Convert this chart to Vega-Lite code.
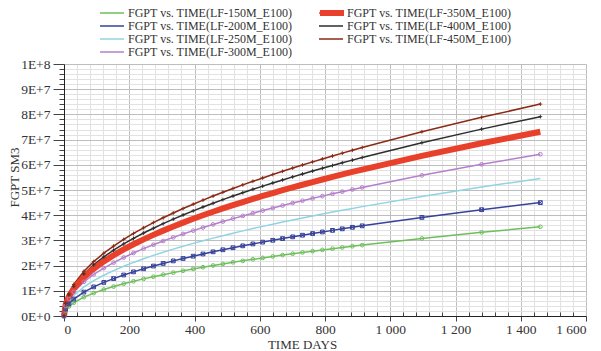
{
  "$schema": "https://vega.github.io/schema/vega-lite/v6.json",
  "width": 522,
  "height": 252,
  "autosize": {"type": "none"},
  "padding": {"left": 64, "top": 64, "right": 15, "bottom": 35},
  "background": "white",
  "config": {
    "view": {"stroke": null},
    "font": "Liberation Serif",
    "axis": {
      "labelFont": "Liberation Serif",
      "titleFont": "Liberation Serif",
      "labelFontSize": 13.5,
      "titleFontSize": 13,
      "titleFontWeight": "normal",
      "labelColor": "#333333",
      "titleColor": "#333333",
      "tickColor": "#444444",
      "domainColor": "#222222"
    }
  },
  "data": {
    "values": [
      {"t": 0, "150": 0, "200": 0, "250": 0, "300": 0, "350": 0, "400": 0, "450": 0},
      {"t": 5, "150": 2190000, "200": 2790000, "250": 3380000, "300": 3970000, "350": 4520000, "400": 4900000, "450": 5210000},
      {"t": 15, "150": 3760000, "200": 4770000, "250": 5790000, "300": 6810000, "350": 7760000, "400": 8390000, "450": 8920000},
      {"t": 30, "150": 5270000, "200": 6710000, "250": 8140000, "300": 9570000, "350": 10890000, "400": 11790000, "450": 12530000},
      {"t": 61, "150": 7470000, "200": 9500000, "250": 11520000, "300": 13550000, "350": 15420000, "400": 16690000, "450": 17750000},
      {"t": 91, "150": 9090000, "200": 11550000, "250": 14020000, "300": 16480000, "350": 18760000, "400": 20300000, "450": 21590000},
      {"t": 122, "150": 10490000, "200": 13330000, "250": 16180000, "300": 19020000, "350": 21660000, "400": 23440000, "450": 24920000},
      {"t": 152, "150": 11680000, "200": 14850000, "250": 18020000, "300": 21190000, "350": 24120000, "400": 26100000, "450": 27750000},
      {"t": 183, "150": 12800000, "200": 16270000, "250": 19740000, "300": 23210000, "350": 26430000, "400": 28590000, "450": 30400000},
      {"t": 213, "150": 13780000, "200": 17520000, "250": 21260000, "300": 25000000, "350": 28470000, "400": 30800000, "450": 32750000},
      {"t": 244, "150": 14730000, "200": 18730000, "250": 22720000, "300": 26720000, "350": 30420000, "400": 32920000, "450": 35000000},
      {"t": 274, "150": 15590000, "200": 19820000, "250": 24050000, "300": 28280000, "350": 32200000, "400": 34840000, "450": 37050000},
      {"t": 304, "150": 16410000, "200": 20860000, "250": 25310000, "300": 29760000, "350": 33880000, "400": 36660000, "450": 38980000},
      {"t": 335, "150": 17210000, "200": 21870000, "250": 26540000, "300": 31210000, "350": 35530000, "400": 38450000, "450": 40880000},
      {"t": 365, "150": 17950000, "200": 22820000, "250": 27680000, "300": 32550000, "350": 37060000, "400": 40100000, "450": 42640000},
      {"t": 396, "150": 18680000, "200": 23740000, "250": 28810000, "300": 33870000, "350": 38570000, "400": 41730000, "450": 44370000},
      {"t": 426, "150": 19360000, "200": 24610000, "250": 29860000, "300": 35100000, "350": 39970000, "400": 43250000, "450": 45990000},
      {"t": 457, "150": 20040000, "200": 25470000, "250": 30900000, "300": 36340000, "350": 41370000, "400": 44770000, "450": 47600000},
      {"t": 487, "150": 20670000, "200": 26280000, "250": 31880000, "300": 37490000, "350": 42680000, "400": 46190000, "450": 49110000},
      {"t": 518, "150": 21310000, "200": 27090000, "250": 32860000, "300": 38640000, "350": 44000000, "400": 47610000, "450": 50620000},
      {"t": 548, "150": 21900000, "200": 27840000, "250": 33780000, "300": 39720000, "350": 45230000, "400": 48940000, "450": 52030000},
      {"t": 579, "150": 22500000, "200": 28600000, "250": 34700000, "300": 40810000, "350": 46460000, "400": 50280000, "450": 53450000},
      {"t": 609, "150": 23060000, "200": 29320000, "250": 35570000, "300": 41830000, "350": 47620000, "400": 51530000, "450": 54790000},
      {"t": 640, "150": 23630000, "200": 30040000, "250": 36450000, "300": 42860000, "350": 48800000, "400": 52810000, "450": 56150000},
      {"t": 670, "150": 24170000, "200": 30720000, "250": 37280000, "300": 43830000, "350": 49910000, "400": 54000000, "450": 57410000},
      {"t": 701, "150": 24710000, "200": 31410000, "250": 38110000, "300": 44810000, "350": 51020000, "400": 55210000, "450": 58700000},
      {"t": 731, "150": 25220000, "200": 32060000, "250": 38900000, "300": 45740000, "350": 52080000, "400": 56360000, "450": 59920000},
      {"t": 762, "150": 25740000, "200": 32720000, "250": 39710000, "300": 46690000, "350": 53160000, "400": 57520000, "450": 61160000},
      {"t": 792, "150": 26230000, "200": 33350000, "250": 40460000, "300": 47570000, "350": 54170000, "400": 58610000, "450": 62320000},
      {"t": 823, "150": 26730000, "200": 33980000, "250": 41230000, "300": 48480000, "350": 55200000, "400": 59730000, "450": 63500000},
      {"t": 853, "150": 27200000, "200": 34580000, "250": 41960000, "300": 49340000, "350": 56180000, "400": 60790000, "450": 64630000},
      {"t": 884, "150": 27690000, "200": 35190000, "250": 42700000, "300": 50210000, "350": 57170000, "400": 61860000, "450": 65770000},
      {"t": 914, "150": 28140000, "200": 35770000, "250": 43400000, "300": 51030000, "350": 58110000, "400": 62880000, "450": 66850000},
      {"t": 1097, "150": 30770000, "200": 39120000, "250": 47460000, "300": 55810000, "350": 63550000, "400": 68760000, "450": 73110000},
      {"t": 1280, "150": 33190000, "200": 42190000, "250": 51190000, "300": 60190000, "350": 68530000, "400": 74160000, "450": 78840000},
      {"t": 1460, "150": 35400000, "200": 45000000, "250": 54600000, "300": 64200000, "350": 73100000, "400": 79100000, "450": 84100000}
    ]
  },
  "transform": [
    {"fold": ["150", "200", "250", "300", "400", "450", "350"], "as": ["series", "value"]}
  ],
  "encoding": {
    "x": {
      "field": "t", "type": "quantitative",
      "scale": {"domain": [0, 1600], "nice": false, "zero": false},
      "axis": {
        "values": [0,40,80,120,160,200,240,280,320,360,400,440,480,520,560,600,640,680,720,760,800,840,880,920,960,1000,1040,1080,1120,1160,1200,1240,1280,1320,1360,1400,1440,1480,1520,1560,1600],
        "grid": true,
        "gridColor": {"condition": {"test": "datum.value % 200 === 0", "value": "#bdbdbd"}, "value": "#e2e2e2"},
        "tickSize": {"condition": {"test": "datum.value % 200 === 0", "value": 5}, "value": -4},
        "labelPadding": 1,
        "labelOverlap": false,
        "labelExpr": "datum.value % 200 === 0 ? replace(format(datum.value, ','), ',', ' ') : ''",
        "domain": true,
        "title": "TIME DAYS", "titleX": 238, "titleY": 28.5, "titleBaseline": "middle"
      }
    },
    "y": {
      "field": "value", "type": "quantitative",
      "scale": {"domain": [0, 100000000], "nice": false},
      "axis": {
        "values": [0,2000000,4000000,6000000,8000000,10000000,12000000,14000000,16000000,18000000,20000000,22000000,24000000,26000000,28000000,30000000,32000000,34000000,36000000,38000000,40000000,42000000,44000000,46000000,48000000,50000000,52000000,54000000,56000000,58000000,60000000,62000000,64000000,66000000,68000000,70000000,72000000,74000000,76000000,78000000,80000000,82000000,84000000,86000000,88000000,90000000,92000000,94000000,96000000,98000000,100000000],
        "grid": true,
        "gridColor": {"condition": {"test": "datum.value % 10000000 === 0", "value": "#bdbdbd"}, "value": "#e2e2e2"},
        "tickSize": {"condition": {"test": "datum.value % 10000000 === 0", "value": 11}, "value": 5},
        "labelPadding": 3,
        "labelOverlap": false,
        "labelExpr": "datum.value % 10000000 === 0 ? replace(format(datum.value, '.0e'), 'e', 'E') : ''",
        "domain": true,
        "title": "FGPT SM3", "titleX": -50, "titleY": 113, "titleAngle": -90, "titleBaseline": "middle", "titleAlign": "center"
      }
    }
  },
  "layer": [
    {
      "transform": [{"filter": "datum.series != '350'"}],
      "mark": {"type": "line", "strokeWidth": 1.5},
      "encoding": {
        "color": {
          "field": "series", "type": "nominal",
          "scale": {
            "domain": ["150", "200", "250", "300", "350", "400", "450"],
            "range": ["#6dbf5b", "#36429a", "#90d4e2", "#b67fcb", "#e8402a", "#2e2e2e", "#8b2a16"]
          },
          "legend": {
            "orient": "none", "legendX": 42, "legendY": -57,
            "direction": "vertical",
            "columns": 2, "columnPadding": 23, "rowPadding": 1,
            "symbolType": "M-4,0H4", "symbolSize": 36, "symbolStrokeWidth": 1.5,
            "labelFont": "Liberation Serif", "labelFontSize": 12, "labelColor": "#333333",
            "labelLimit": 300, "labelOffset": 10,
            "labelExpr": "'FGPT vs. TIME(LF-' + datum.label + 'M_E100)'",
            "title": null, "padding": 0
          }
        }
      }
    },
    {
      "transform": [{"filter": "datum.series == '350'"}],
      "mark": {"type": "line"},
      "encoding": {
        "color": {"field": "series", "type": "nominal"},
        "strokeWidth": {
          "field": "series", "type": "nominal",
          "scale": {"domain": ["350"], "range": [6, 6]},
          "legend": {
            "orient": "none", "legendX": 262, "legendY": -57,
            "direction": "vertical",
            "symbolType": "M-4,0H4", "symbolSize": 36,
            "symbolStrokeColor": "#e8402a",
            "labelFont": "Liberation Serif", "labelFontSize": 12,
            "labelOffset": 10,
            "labelExpr": "''",
            "title": null, "padding": 0
          }
        }
      }
    },
    {
      "transform": [{"filter": "datum.series != '350' && datum.series != '250'"}],
      "mark": {"type": "point", "filled": false, "size": 14, "strokeWidth": 1, "opacity": 1},
      "encoding": {
        "color": {"field": "series", "type": "nominal"},
        "shape": {
          "field": "series", "type": "nominal",
          "scale": {
            "domain": ["150", "200", "300", "400", "450"],
            "range": ["circle", "M-1,-1H1V1H-1ZM-1,-1L1,1M1,-1L-1,1", "circle", "M-1,0H1M0,-1V1", "M-1,0H1M0,-1V1"]
          },
          "legend": null
        }
      }
    }
  ]
}
